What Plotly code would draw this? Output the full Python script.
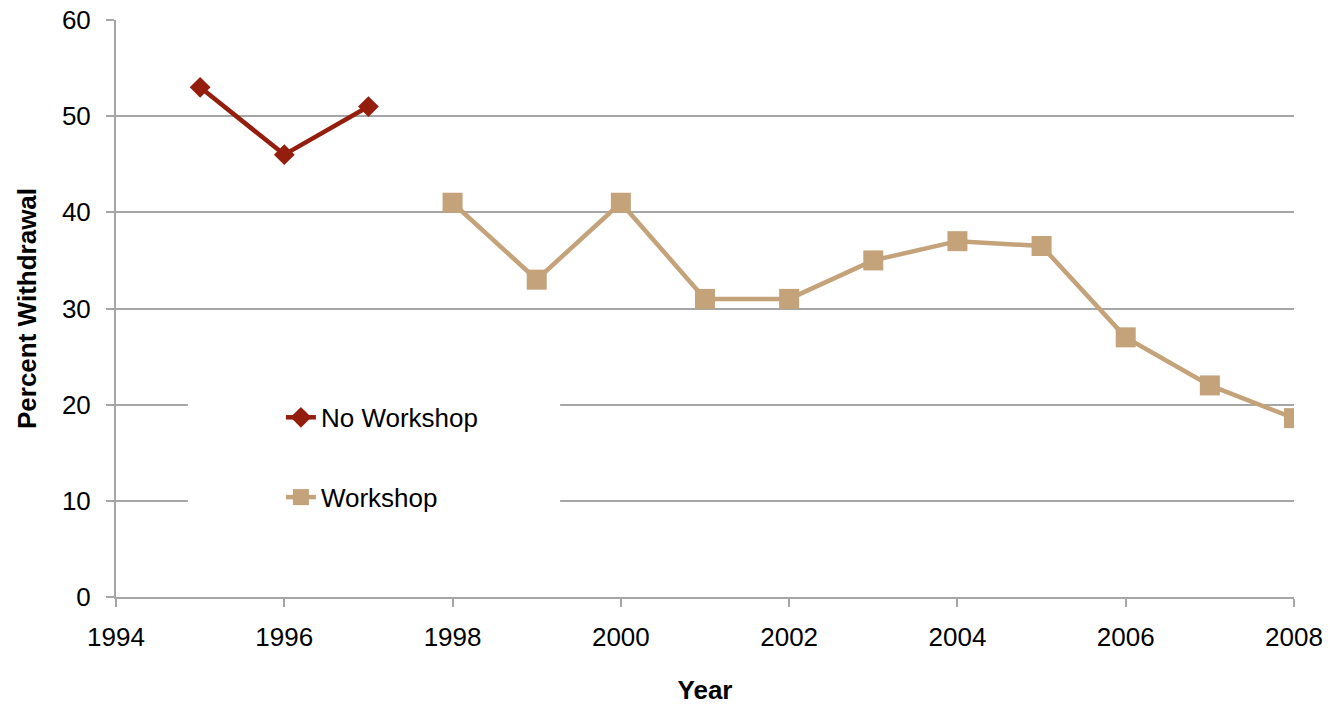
import plotly.graph_objects as go

# Withdrawal rates by year, before and after the workshop was introduced
years_no_workshop = [1995, 1996, 1997]
pct_no_workshop = [53, 46, 51]

years_workshop = [1998, 1999, 2000, 2001, 2002, 2003, 2004, 2005, 2006, 2007, 2008]
pct_workshop = [41, 33, 41, 31, 31, 35, 37, 36.5, 27, 22, 18.6]

x_ticks = [1994, 1996, 1998, 2000, 2002, 2004, 2006, 2008]
y_ticks = [0, 10, 20, 30, 40, 50, 60]

RED = "#941E0E"
TAN = "#C4A27A"
GRID = "#A6A6A6"
FONT = "Liberation Sans, Arial, sans-serif"

fig = go.Figure()
fig.add_trace(go.Scatter(
    x=years_no_workshop, y=pct_no_workshop, name="No Workshop",
    mode="lines+markers", legendgroup="a",
    line=dict(color=RED, width=4.5),
    marker=dict(symbol="diamond", size=16, color=RED),
))
fig.add_trace(go.Scatter(
    x=years_workshop, y=pct_workshop, name="Workshop",
    mode="lines+markers", legendgroup="b",
    line=dict(color=TAN, width=4.5),
    marker=dict(symbol="square", size=20, color=TAN),
))

# white panel behind the legend that hides the gridlines
fig.add_shape(type="rect", xref="paper", yref="paper",
              x0=0.061, x1=0.377, y0=0.13, y1=0.36,
              fillcolor="white", line=dict(width=0), layer="above")

fig.update_layout(
    width=1330, height=706,
    margin=dict(l=116, r=36, t=20, b=109),
    plot_bgcolor="white", paper_bgcolor="white",
    font=dict(family=FONT, size=26, color="black"),
    showlegend=True,
    legend=dict(x=0.140, y=0.352, xanchor="left", yanchor="top",
                bgcolor="rgba(0,0,0,0)", tracegroupgap=43,
                font=dict(size=26)),
    xaxis=dict(
        range=[1994, 2008], tickvals=x_ticks, ticktext=[str(v) for v in x_ticks],
        showgrid=False, zeroline=False, automargin=False,
        showline=True, linecolor=GRID, linewidth=2,
        ticks="outside", ticklen=8, tickcolor=GRID, tickwidth=2,
        ticklabelstandoff=8,
        tickfont=dict(size=26),
        title=dict(text="<b>Year</b>", font=dict(size=26), standoff=30),
    ),
    yaxis=dict(
        range=[0, 60], tickvals=y_ticks,
        showgrid=True, gridcolor=GRID, gridwidth=2, zeroline=False, automargin=False,
        showline=True, linecolor=GRID, linewidth=2,
        ticks="outside", ticklen=8, tickcolor=GRID, tickwidth=2,
        ticklabelstandoff=10,
        tickfont=dict(size=26),
        title=dict(text="<b>Percent Withdrawal</b>", font=dict(size=26), standoff=18),
    ),
)

fig.write_html("out.html")
